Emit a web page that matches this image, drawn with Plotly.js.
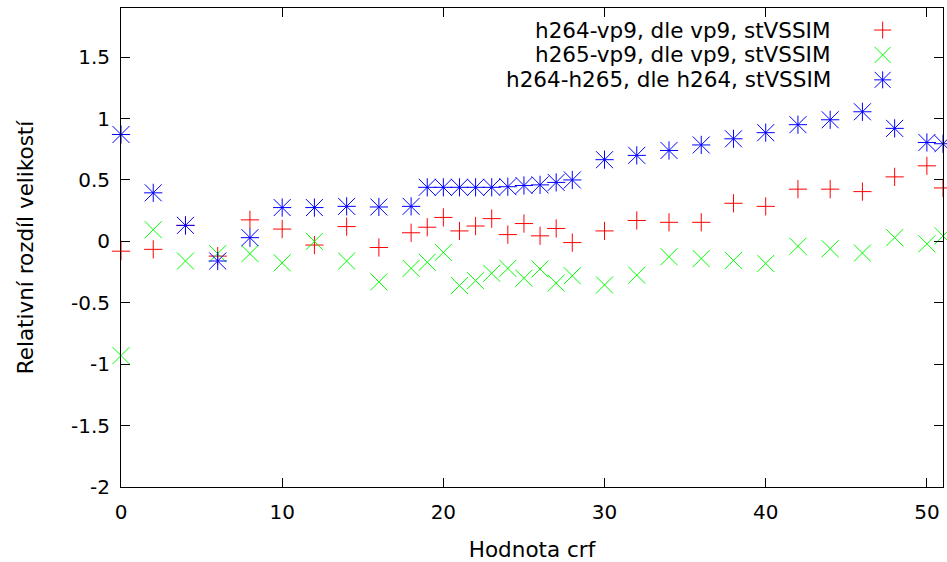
<!DOCTYPE html>
<html>
<head>
<meta charset="utf-8">
<script src="https://cdn.plot.ly/plotly-3.0.1.min.js"></script>
<style>
  html, body { margin: 0; padding: 0; background: #fff; }
  #chart { width: 947px; height: 562px; }
</style>
</head>
<body>
<div id="chart"></div>
<script>
// Hodnota crf (x values)
const crf = [0, 2, 4, 6, 8, 10, 12, 14, 16, 18, 19, 20, 21, 22, 23, 24, 25, 26, 27, 28,
             30, 32, 34, 36, 38, 40, 42, 44, 46, 48, 50, 51];

// h264-vp9, dle vp9, stVSSIM
const h264vp9 = [-0.08, -0.065, 0.13, -0.12, 0.175, 0.10, -0.03, 0.12, -0.05, 0.07, 0.115, 0.195,
                 0.085, 0.125, 0.185, 0.055, 0.145, 0.045, 0.105, -0.01, 0.085, 0.17, 0.155, 0.155,
                 0.31, 0.285, 0.425, 0.425, 0.405, 0.525, 0.615, 0.435];

// h265-vp9, dle vp9, stVSSIM
const h265vp9 = [-0.93, 0.095, -0.16, -0.10, -0.10, -0.175, 0.0, -0.16, -0.33, -0.22, -0.17, -0.09,
                 -0.36, -0.32, -0.26, -0.22, -0.30, -0.225, -0.34, -0.28, -0.355, -0.275, -0.125, -0.14,
                 -0.155, -0.18, -0.04, -0.06, -0.095, 0.03, -0.02, 0.045];

// h264-h265, dle h264, stVSSIM
const h264h265 = [0.87, 0.395, 0.13, -0.16, 0.03, 0.275, 0.275, 0.285, 0.28, 0.285, 0.44, 0.44,
                  0.44, 0.44, 0.44, 0.445, 0.455, 0.46, 0.48, 0.50, 0.665, 0.70, 0.74, 0.785,
                  0.835, 0.885, 0.95, 0.99, 1.055, 0.92, 0.805, 0.795];

const seriesNames = ["h264-vp9, dle vp9, stVSSIM", "h265-vp9, dle vp9, stVSSIM", "h264-h265, dle h264, stVSSIM"];

const xTickVals = [0, 10, 20, 30, 40, 50];
const xTickText = ["0", "10", "20", "30", "40", "50"];
const yTickVals = [-2, -1.5, -1, -0.5, 0, 0.5, 1, 1.5];
const yTickText = ["-2", "-1.5", "-1", "-0.5", "0", "0.5", "1", "1.5"];

const RED = "#ff0000", GREEN = "#00ff00", BLUE = "#0000ff";
const FONT = "DejaVu Sans, sans-serif";

function mk(y, symbol, size, color, name) {
  return {
    x: crf, y: y, type: "scatter", mode: "markers", name: name,
    showlegend: false, cliponaxis: false, hoverinfo: "x+y",
    marker: { symbol: symbol, size: size, color: color, line: { width: 1, color: color } }
  };
}

const traces = [
  mk(h264vp9, "cross-thin-open", 13, RED, seriesNames[0]),
  mk(h265vp9, "x-thin-open", 17, GREEN, seriesNames[1]),
  mk(h264h265, "cross-thin-open", 13, BLUE, seriesNames[2]),
  mk(h264h265, "x-thin-open", 17, BLUE, seriesNames[2])
];

// custom legend (text right-aligned, symbol to the right, as in gnuplot)
const legTextX = 0.866, legSymX = 0.9266;
const legY = [0.954, 0.902, 0.850];
const annotations = seriesNames.map((n, i) => ({
  text: n, xref: "paper", yref: "paper", x: legTextX, y: legY[i],
  xanchor: "right", yanchor: "middle", showarrow: false,
  font: { family: FONT, size: 21.5, color: "#000" }
}));
const plusPath = "M-8.5,0H8.5M0,-8.5V8.5";
const xPath = "M-8,-8L8,8M-8,8L8,-8";
const symPaths = [[plusPath], [xPath], [plusPath, xPath]];
const symColors = [RED, GREEN, BLUE];
const shapes = [];
symPaths.forEach((paths, i) => {
  paths.forEach(p => shapes.push({
    type: "path", xref: "paper", yref: "paper",
    xsizemode: "pixel", ysizemode: "pixel",
    xanchor: legSymX, yanchor: legY[i], path: p,
    line: { color: symColors[i], width: 1 }
  }));
});

const axisCommon = {
  showgrid: false, zeroline: false, showline: true, linecolor: "#000", linewidth: 1,
  mirror: "ticks", ticks: "inside", ticklen: 9, tickcolor: "#000", tickwidth: 1,
  tickfont: { family: FONT, size: 20, color: "#000" }
};

const layout = {
  width: 947, height: 562,
  margin: { l: 121, r: 4, t: 8, b: 75, pad: 0 },
  paper_bgcolor: "#fff", plot_bgcolor: "#fff",
  font: { family: FONT, size: 20, color: "#000" },
  xaxis: Object.assign({}, axisCommon, {
    range: [0, 51], tickmode: "array", tickvals: xTickVals, ticktext: xTickText,
    ticklabelstandoff: 7,
    title: { text: "Hodnota crf", font: { family: FONT, size: 21.5, color: "#000" }, standoff: 19 }
  }),
  yaxis: Object.assign({}, axisCommon, {
    range: [-2, 1.9], tickmode: "array", tickvals: yTickVals, ticktext: yTickText,
    ticklabelstandoff: 6,
    title: { text: "Relativní rozdíl velikostí", font: { family: FONT, size: 21.5, color: "#000" }, standoff: 31 }
  }),
  showlegend: false,
  annotations: annotations,
  shapes: shapes
};

Plotly.newPlot("chart", traces, layout, { displayModeBar: false, staticPlot: true });
</script>
</body>
</html>
